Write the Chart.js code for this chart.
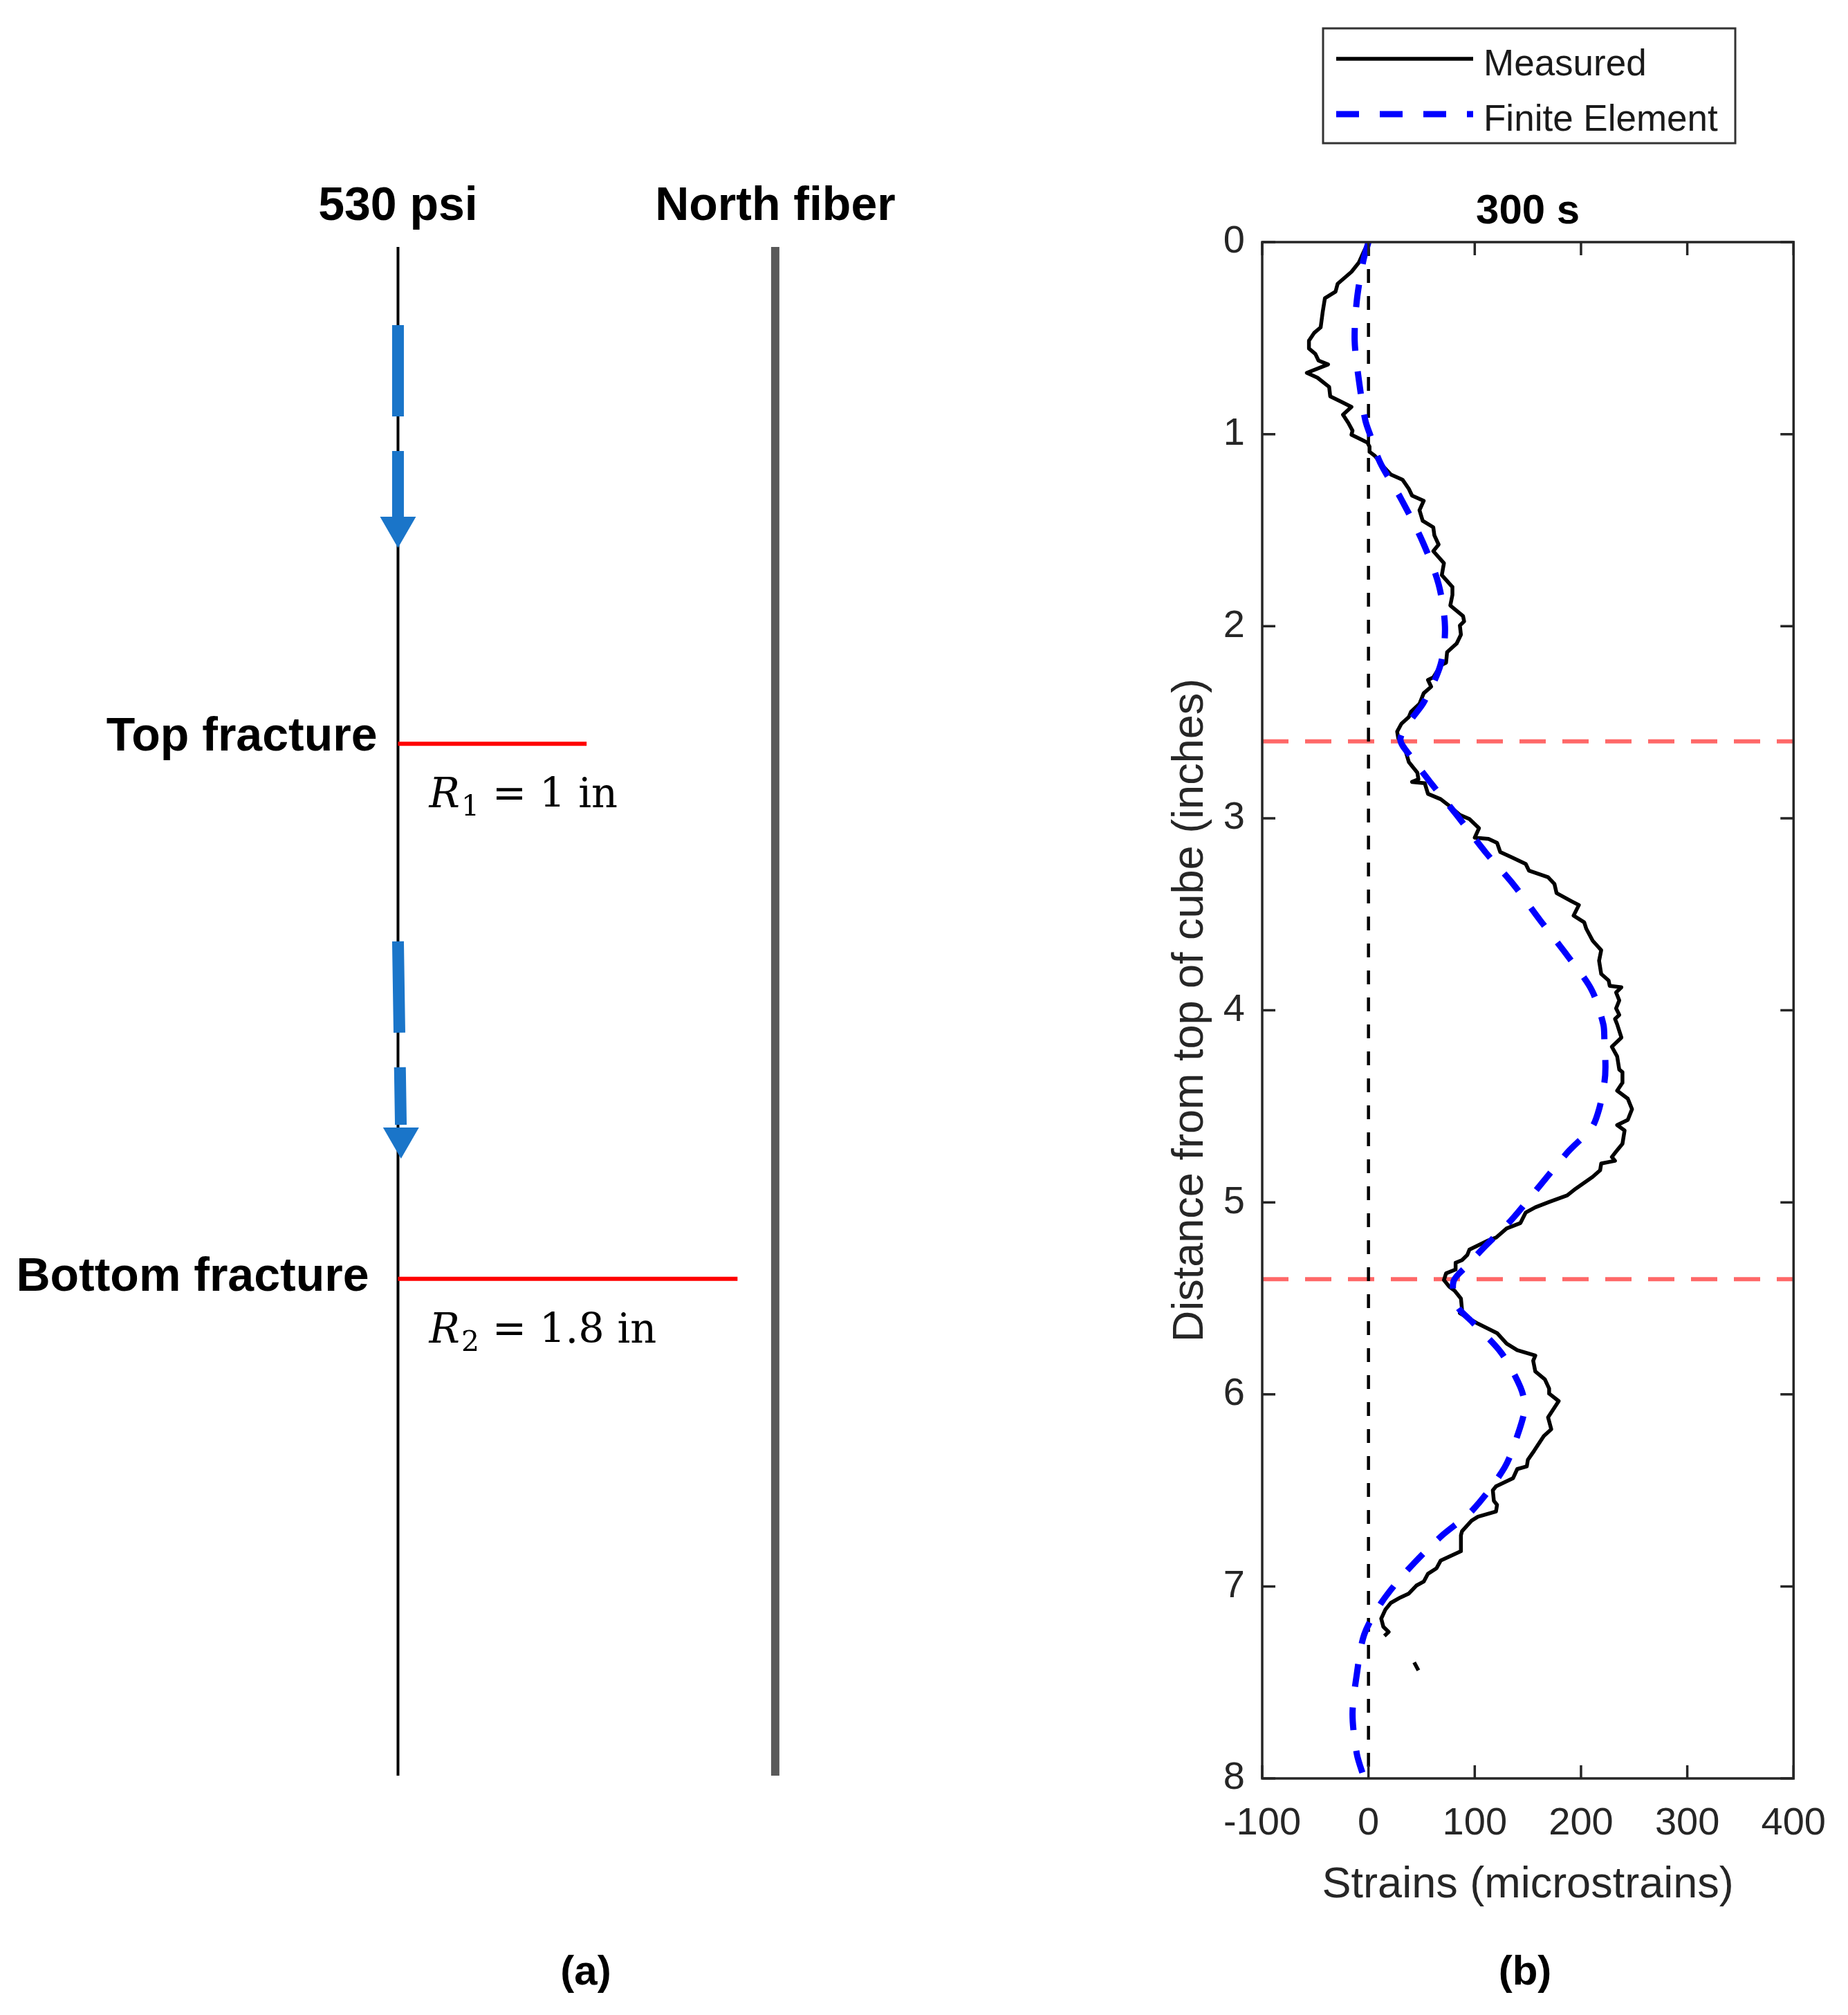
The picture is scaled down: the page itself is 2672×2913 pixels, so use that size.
<!DOCTYPE html>
<html>
<head>
<meta charset="utf-8">
<script src="https://cdn.jsdelivr.net/npm/chart.js@4.4.1/dist/chart.umd.min.js"></script>
<style>
  html, body { margin: 0; padding: 0; background: #fff; }
  #wrap { position: relative; width: 2672px; height: 2913px; background: #fff; }
  canvas { position: absolute; top: 0; }
  #sketch { left: 0; }
  #strain { left: 1600px; }
</style>
</head>
<body>
<div id="wrap">
  <canvas id="sketch" width="1600" height="2913"></canvas>
  <canvas id="strain" width="1072" height="2913"></canvas>
</div>
<script>
// (b) strain profile along the fiber, 300 s
const measuredDepth = [
  0.00, 0.045, 0.106, 0.155, 0.217, 0.258, 0.292, 0.361, 0.444, 0.472, 0.513, 0.554, 0.582, 0.617, 0.637,
  0.681, 0.706, 0.754, 0.803, 0.830, 0.858, 0.899, 0.941, 0.982, 1.003, 1.030, 1.044, 1.065, 1.092, 1.113,
  1.175, 1.210, 1.237, 1.285, 1.320, 1.347, 1.396, 1.451, 1.485, 1.527, 1.575, 1.609, 1.672, 1.734, 1.796,
  1.837, 1.892, 1.947, 1.975, 1.996, 2.044, 2.090, 2.135, 2.190, 2.204, 2.266, 2.280, 2.315, 2.349, 2.404,
  2.446, 2.473, 2.508, 2.549, 2.583, 2.611, 2.652, 2.708, 2.763, 2.797, 2.811, 2.818, 2.873, 2.901, 2.935,
  2.983, 3.004, 3.052, 3.101, 3.108, 3.128, 3.176, 3.204, 3.238, 3.273, 3.307, 3.342, 3.390, 3.432, 3.452,
  3.507, 3.542, 3.576, 3.638, 3.687, 3.742, 3.811, 3.845, 3.873, 3.880, 3.907, 3.949, 3.990, 4.024, 4.045,
  4.073, 4.142, 4.190, 4.240, 4.309, 4.322, 4.377, 4.419, 4.460, 4.515, 4.571, 4.598, 4.626, 4.695, 4.736,
  4.764, 4.784, 4.798, 4.833, 4.867, 4.929, 4.964, 4.998, 5.026, 5.053, 5.108, 5.136, 5.184, 5.198, 5.246,
  5.274, 5.301, 5.315, 5.350, 5.370, 5.405, 5.439, 5.460, 5.501, 5.557, 5.577, 5.632, 5.681, 5.736, 5.770,
  5.798, 5.825, 5.881, 5.922, 5.970, 5.996, 6.035, 6.120, 6.182, 6.217, 6.293, 6.341, 6.375, 6.389, 6.437,
  6.479, 6.500, 6.555, 6.575, 6.610, 6.637, 6.658, 6.713, 6.734, 6.817, 6.865, 6.906, 6.934, 6.975, 6.996,
  7.037, 7.058, 7.086, 7.120, 7.168, 7.210, 7.237, 7.258, 7.330, 7.396, 7.437
]
const measuredStrain = [
  0, -4, -9, -16, -29, -31, -41, -43, -45, -51, -56, -56, -50, -47, -38,
  -58, -48, -37, -36, -26, -16, -24, -19, -15, -16, -6, -1, 1, 1, 6,
  15, 21, 32, 38, 41, 52, 48, 51, 61, 62, 66, 61, 71, 69, 79,
  79, 77, 89, 90, 86, 87, 83, 74, 73, 68, 61, 56, 59, 52, 48,
  40, 38, 31, 27, 28, 32, 35, 38, 46, 47, 41, 53, 56, 68, 76,
  86, 95, 104, 100, 113, 121, 124, 135, 148, 151, 169, 175, 177, 191, 198,
  193, 203, 205, 211, 219, 217, 219, 226, 227, 238, 233, 236, 233, 236, 232,
  234, 238, 229, 234, 236, 239, 239, 234, 244, 248, 244, 234, 241, 239, 233,
  229, 232, 219, 218, 211, 195, 187, 170, 157, 148, 143, 130, 120, 113, 95,
  93, 88, 82, 82, 73, 71, 76, 81, 87, 88, 86, 103, 121, 130, 140,
  157, 155, 157, 166, 170, 170, 179, 169, 172, 165, 156, 150, 149, 140, 136,
  120, 117, 118, 121, 120, 103, 97, 88, 87, 87, 68, 64, 56, 52, 45,
  38, 30, 21, 16, 12, 14, 19, 15, null, 43, 47
]
const feDepth = [
  0, 0.10, 0.306, 0.513, 0.72, 0.927, 1.01, 1.148, 1.34, 1.561, 1.782, 2.003, 2.197, 2.397, 2.487,
  2.59, 2.68, 2.811, 2.983, 3.176, 3.342, 3.535, 3.714, 3.894, 4.073, 4.155, 4.295, 4.377, 4.515, 4.612,
  4.736, 4.915, 5.095, 5.233, 5.329, 5.412, 5.536, 5.625, 5.784, 5.963, 6.07, 6.217, 6.382, 6.603, 6.741,
  6.92, 7.086, 7.251, 7.458, 7.665, 7.871, 8.0
]
const feStrain = [
  0, -5, -11, -13, -9, -3, 2, 11, 31, 51, 66, 72, 68, 52, 40,
  30, 40, 58, 83, 110, 136, 162, 187, 210, 221, 222, 223, 222, 217, 210,
  188, 161, 134, 109, 93, 80, 83, 98, 125, 143, 147, 140, 128, 98, 68,
  36, 12, -4, -11, -15, -11, -4
]
const strainTicks = [-100, 0, 100, 200, 300, 400]
const depthTicks = [0, 1, 2, 3, 4, 5, 6, 7, 8]

// (a) sketch of the well, the two fractures and the fiber, in inches
const fractureDepths = [2.6, 5.4]
const fractureRadii = [1, 1.8]
const fractureNames = ['Top fracture', 'Bottom fracture']
const fiberOffset = 2
const arrowStart = [0.409, 3.634]
const arrowEnd = [1.415, 4.594]
const arrowHead = [1.466, 4.662]
const arrowLean = [0, 0.015]

const SANS = '"Liberation Sans", Arial, sans-serif'
const SERIF = '"DejaVu Serif", serif'
Chart.defaults.font.family = SANS

const fixedTicks = values => scale => { scale.ticks = values.map(v => ({ value: v })) }

const strainFrame = {
  id: 'strainFrame',
  afterDraw(chart) {
    const { ctx, chartArea: a, scales: { x, y } } = chart
    ctx.save()
    ctx.strokeStyle = '#262626'
    ctx.lineWidth = 3.5
    ctx.strokeRect(a.left, a.top, a.right - a.left, a.bottom - a.top)
    ctx.beginPath()
    x.ticks.forEach(t => {
      const px = x.getPixelForValue(t.value)
      ctx.moveTo(px, a.bottom); ctx.lineTo(px, a.bottom - 19)
      ctx.moveTo(px, a.top); ctx.lineTo(px, a.top + 19)
    })
    y.ticks.forEach(t => {
      const py = y.getPixelForValue(t.value)
      ctx.moveTo(a.left, py); ctx.lineTo(a.left + 19, py)
      ctx.moveTo(a.right, py); ctx.lineTo(a.right - 19, py)
    })
    ctx.stroke()

    ctx.fillStyle = '#000'
    ctx.textAlign = 'center'
    ctx.font = 'bold 60px ' + SANS
    ctx.fillText('300 s', (a.left + a.right) / 2, 323)
    ctx.textBaseline = 'middle'
    ctx.fillText('(b)', 605, 2852)

    // legend
    ctx.textBaseline = 'alphabetic'
    ctx.fillStyle = '#fff'
    ctx.fillRect(313, 41, 596, 166)
    ctx.strokeStyle = '#333'
    ctx.lineWidth = 3
    ctx.strokeRect(313, 41, 596, 166)
    const shown = chart.data.datasets.filter(d => d.inLegend)
    shown.forEach((d, i) => {
      const ly = 85 + i * 80
      ctx.strokeStyle = d.borderColor
      ctx.lineWidth = d.borderWidth
      ctx.setLineDash(d.borderDash || [])
      ctx.beginPath()
      ctx.moveTo(332, ly); ctx.lineTo(530, ly)
      ctx.stroke()
      ctx.setLineDash([])
      ctx.fillStyle = '#1a1a1a'
      ctx.textAlign = 'left'
      ctx.font = '53px ' + SANS
      ctx.fillText(d.label, 545, ly + 24)
    })
    ctx.restore()
  }
}

const measuredPoints = measuredDepth.map((d, i) => ({ x: measuredStrain[i], y: d }))
const fePoints = feDepth.map((d, i) => ({ x: feStrain[i], y: d }))
const fractureSets = fractureDepths.map(d => ({
  data: [{ x: strainTicks[0], y: d }, { x: strainTicks[strainTicks.length - 1], y: d }],
  showLine: true, pointRadius: 0, borderColor: 'rgba(255, 40, 40, 0.7)', borderWidth: 6,
  borderDash: [38, 24], order: 3
}))

new Chart(document.getElementById('strain'), {
  type: 'scatter',
  data: {
    datasets: [
      {
        label: 'Measured', inLegend: true, data: measuredPoints, showLine: true, pointRadius: 0,
        borderColor: '#000', borderWidth: 5.5, tension: 0, spanGaps: false, order: 1,
        borderJoinStyle: 'round'
      },
      {
        label: 'Finite Element', inLegend: true, data: fePoints, showLine: true, pointRadius: 0,
        borderColor: '#0000ff', borderWidth: 9, borderDash: [33, 30], tension: 0.3, order: 0
      },
      {
        data: [{ x: 0, y: depthTicks[0] }, { x: 0, y: depthTicks[depthTicks.length - 1] }],
        showLine: true, pointRadius: 0, borderColor: '#000', borderWidth: 4.5, borderDash: [20, 19], order: 2
      },
      ...fractureSets
    ]
  },
  options: {
    responsive: false,
    animation: false,
    devicePixelRatio: 1,
    layout: { padding: { top: 350, right: 76, bottom: 142, left: 0 }, autoPadding: false },
    plugins: { legend: { display: false }, tooltip: { enabled: false }, title: { display: false } },
    scales: {
      x: {
        type: 'linear', position: 'bottom',
        min: strainTicks[0], max: strainTicks[strainTicks.length - 1],
        afterBuildTicks: fixedTicks(strainTicks),
        afterFit: s => { s.height = 200 },
        grid: { display: false, drawTicks: false },
        border: { display: false },
        ticks: { color: '#262626', font: { size: 56 }, padding: 32, maxRotation: 0 },
        title: { display: true, text: 'Strains (microstrains)', color: '#262626', font: { size: 63 }, padding: { bottom: 8 } }
      },
      y: {
        type: 'linear', position: 'left', reverse: true,
        min: depthTicks[0], max: depthTicks[depthTicks.length - 1],
        afterBuildTicks: fixedTicks(depthTicks),
        afterFit: s => { s.width = 225 },
        grid: { display: false, drawTicks: false },
        border: { display: false },
        ticks: { color: '#262626', font: { size: 56 }, padding: 25 },
        title: { display: true, text: 'Distance from top of cube (inches)', color: '#262626', font: { size: 63 }, padding: { top: 84 } }
      }
    }
  },
  plugins: [strainFrame]
})

// (a)
const sketchLabels = {
  id: 'sketchLabels',
  afterDraw(chart) {
    const { ctx, scales: { x, y } } = chart
    const x0 = x.getPixelForValue(0)
    const top = y.getPixelForValue(0)
    ctx.save()
    ctx.fillStyle = '#000'
    ctx.font = 'bold 68px ' + SANS
    ctx.textAlign = 'center'
    ctx.fillText('530 psi', x0, top - 39)
    ctx.fillText('North fiber', x.getPixelForValue(fiberOffset), top - 39)
    ctx.textBaseline = 'middle'
    ctx.font = 'bold 60px ' + SANS
    ctx.fillText('(a)', 847, 2852)
    ctx.textBaseline = 'alphabetic'

    fractureDepths.forEach((d, i) => {
      const py = y.getPixelForValue(d)
      ctx.textAlign = 'right'
      ctx.font = 'bold 68px ' + SANS
      ctx.fillText(fractureNames[i], x0 - 30 - i * 12, py + 10 + i * 7)

      // R_i = r in
      ctx.textAlign = 'left'
      let cx = x0 + 45
      const base = py + 92
      ctx.font = 'italic 59px ' + SERIF
      ctx.fillText('R', cx, base)
      cx += ctx.measureText('R').width + 2
      ctx.font = '41px ' + SERIF
      ctx.fillText(String(i + 1), cx, base + 12)
      cx += ctx.measureText(String(i + 1)).width
      ctx.font = '59px ' + SERIF
      ctx.fillText(' = ' + fractureRadii[i] + ' in', cx, base)
    })
    ctx.restore()
  }
}

const lineSet = (pts, color, width, extra) => Object.assign({
  data: pts, showLine: true, pointRadius: 0, borderColor: color, borderWidth: width, borderCapStyle: 'butt'
}, extra || {})

new Chart(document.getElementById('sketch'), {
  type: 'scatter',
  data: {
    datasets: [
      lineSet([{ x: 0, y: depthTicks[0] }, { x: 0, y: depthTicks[depthTicks.length - 1] }], '#000', 4, { order: 3 }),
      lineSet([{ x: fiberOffset, y: depthTicks[0] }, { x: fiberOffset, y: depthTicks[depthTicks.length - 1] }], '#595959', 12, { order: 3 }),
      ...fractureDepths.map((d, i) => lineSet([{ x: 0, y: d }, { x: fractureRadii[i], y: d }], '#ff0000', 6, { order: 2 })),
      ...arrowStart.map((s, i) => lineSet([{ x: 0, y: s }, { x: arrowLean[i], y: arrowEnd[i] }], '#1a75c9', 17, { borderDash: [132, 50], order: 1 })),
      {
        data: arrowHead.map((h, i) => ({ x: arrowLean[i] * 1.06, y: h })),
        pointStyle: 'triangle', rotation: 180, pointRadius: 30, backgroundColor: '#1a75c9',
        borderWidth: 0, order: 0
      }
    ]
  },
  options: {
    responsive: false,
    animation: false,
    devicePixelRatio: 1,
    layout: { padding: { top: 357, right: 70, bottom: 346, left: 30 }, autoPadding: false },
    plugins: { legend: { display: false }, tooltip: { enabled: false } },
    scales: {
      x: { type: 'linear', display: false, min: -2, max: 3.5 },
      y: { type: 'linear', display: false, reverse: true, min: depthTicks[0], max: depthTicks[depthTicks.length - 1] }
    }
  },
  plugins: [sketchLabels]
})
</script>
</body>
</html>
